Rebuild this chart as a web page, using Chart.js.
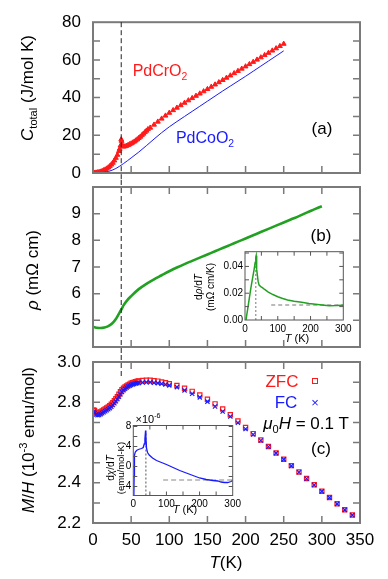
<!DOCTYPE html>
<html lang="en">
<head>
<meta charset="UTF-8">
<title>PdCrO2: heat capacity, resistivity and susceptibility</title>
<style>
  body { margin: 0; background: #fff; font-family: 'Liberation Sans', Arial, sans-serif; }
  #page { position: relative; width: 388px; height: 579px; overflow: hidden; }
  #page canvas { position: absolute; left: 0; top: 0; }
  .lbl { position: absolute; white-space: nowrap; transform: translate(-50%, -50%); font-size: 17px; line-height: 1; color: #000; }
  .rot { transform: translate(-50%, -50%) rotate(-90deg); }
  .sm { font-size: 10px; }
  sub, sup { font-size: 65%; line-height: 0; }
</style>
</head>
<body>
<div id="page">
  <canvas id="cA" width="388" height="579"></canvas>
  <canvas id="cB" width="388" height="579"></canvas>
  <canvas id="cC" width="388" height="579"></canvas>
  <canvas id="iB" width="388" height="579"></canvas>
  <canvas id="iC" width="388" height="579"></canvas>

  <div class="lbl rot" style="left:27px;top:88px"><i>C</i><sub>total</sub> (J/mol K)</div>
  <div class="lbl rot" style="left:32px;top:270px"><i>ρ</i> (mΩ cm)</div>
  <div class="lbl rot" style="left:28px;top:440px"><i>M</i>/<i>H</i> (10<sup>-3</sup> emu/mol)</div>
  <div class="lbl" style="left:226px;top:562px"><i>T</i>(K)</div>

  <div class="lbl" style="left:160px;top:71px;font-size:16px;color:#ff1a1a">PdCrO<sub>2</sub></div>
  <div class="lbl" style="left:205px;top:138px;font-size:16px;color:#1a1aff">PdCoO<sub>2</sub></div>
  <div class="lbl" style="left:322px;top:128px">(a)</div>
  <div class="lbl" style="left:321px;top:235px">(b)</div>
  <div class="lbl" style="left:321px;top:448px">(c)</div>

  <div class="lbl" style="left:282px;top:381px;color:#ff1a1a">ZFC</div>
  <div style="position:absolute;left:312px;top:378px;width:4px;height:4px;border:1px solid #ff1a1a"></div>
  <div class="lbl" style="left:286px;top:402px;color:#1a1aff">FC</div>
  <div class="lbl" style="left:315px;top:402px;font-size:13px;color:#1a1aff">×</div>
  <div class="lbl" style="left:306px;top:423px"><i>μ</i><sub>0</sub><i>H</i> = 0.1 T</div>

  <div class="lbl rot sm" style="left:199px;top:287px">d<i>ρ</i>/d<i>T</i></div>
  <div class="lbl rot sm" style="left:211px;top:287px">(mΩ cm/K)</div>
  <div class="lbl" style="left:297px;top:338px;font-size:11px"><i>T</i> (K)</div>

  <div class="lbl" style="left:148px;top:419px;font-size:11px">×10<sup>-6</sup></div>
  <div class="lbl rot sm" style="left:111px;top:468px">d<i>χ</i>/d<i>T</i></div>
  <div class="lbl rot sm" style="left:121px;top:468px;font-size:9.5px">(emu/mol-K)</div>
  <div class="lbl" style="left:185px;top:509px;font-size:11px"><i>T</i> (K)</div>
</div>

<script src="https://cdn.jsdelivr.net/npm/chart.js"></script>
<script>
// ---- data ----
// (a) heat capacity, J/mol K
const crT = [0, 2, 4, 6, 8, 10, 12, 14, 16, 18, 20, 22, 24, 26, 28, 30, 32, 34, 35, 36, 37, 37.5, 38, 39, 40,
  42, 44, 46, 48, 50, 52, 54, 56, 58, 60, 62, 64, 66, 68, 70, 72,
  75, 80, 85, 90, 95, 100, 105, 110, 115, 120, 125, 130, 135, 140, 145, 150, 155, 160, 165, 170,
  175, 180, 185, 190, 195, 200, 205, 210, 215, 220, 225, 230, 235, 240, 245, 250];
const crC = [0.1, 0.1, 0.2, 0.3, 0.5, 0.7, 1.0, 1.4, 1.8, 2.3, 2.9, 3.6, 4.4, 5.4, 6.6, 8.0, 9.6, 11.6, 12.8, 14.5, 17.8, 17.0, 15.0, 14.2, 14.0,
  14.1, 14.4, 14.8, 15.2, 15.6, 16.1, 16.6, 17.2, 17.8, 18.5, 19.2, 20.0, 20.8, 21.6, 22.4, 23.2,
  24.0, 25.6, 27.2, 28.8, 30.4, 31.9, 33.3, 34.6, 35.9, 37.2, 38.5, 39.7, 40.9, 42.1, 43.3, 44.5, 45.7, 46.9, 48.1, 49.3,
  50.5, 51.7, 52.9, 54.1, 55.3, 56.5, 57.7, 58.9, 60.1, 61.3, 62.5, 63.7, 64.9, 66.1, 67.3, 68.5];
const coT = [0, 10, 20, 30, 40, 50, 60, 70, 80, 90, 100, 110, 120, 130, 140, 150, 160, 170, 180, 190, 200, 210, 220, 230, 240, 250];
const coC = [0, 0.15, 0.8, 2.4, 5.0, 8.0, 11.1, 14.5, 18.0, 21.4, 24.5, 27.3, 30.0, 32.7, 35.4, 38.1, 40.8, 43.5, 46.1, 48.7, 51.3, 54.0, 56.7, 59.4, 62.1, 64.8];

// (b) resistivity, mOhm cm
const rhoT = [0, 2, 5, 10, 15, 20, 25, 30, 35, 38, 40, 45, 50, 60, 70, 80, 90, 100, 110, 120, 130, 140, 150,
  160, 170, 180, 190, 200, 210, 220, 230, 240, 250, 260, 270, 280, 290, 300];
const rhoV = [4.75, 4.74, 4.72, 4.71, 4.73, 4.78, 4.88, 5.05, 5.30, 5.45, 5.56, 5.76, 5.91, 6.17, 6.37, 6.54, 6.69, 6.84, 6.98, 7.11, 7.23, 7.35, 7.47,
  7.59, 7.71, 7.83, 7.95, 8.07, 8.19, 8.31, 8.43, 8.55, 8.67, 8.79, 8.91, 9.04, 9.16, 9.28];
// inset: d rho / dT
const drhoT = [3, 8, 13, 18, 23, 28, 31, 33, 34, 35, 36, 38, 40, 43, 48, 53, 60, 70, 85, 100, 115, 130, 150, 173, 195, 215, 235, 257, 280, 300];
const drhoV = [0, 0.008, 0.016, 0.024, 0.031, 0.038, 0.043, 0.047, 0.048, 0.045, 0.038, 0.033, 0.029, 0.026, 0.025, 0.0242,
  0.0228, 0.021, 0.019, 0.0174, 0.016, 0.0149, 0.014, 0.0132, 0.0123, 0.0117, 0.0112, 0.0107, 0.0108, 0.011];

// (c) M/H, 1e-3 emu/mol
const mT = [1, 2, 4, 6, 8, 10, 12, 14, 16, 18, 20, 22, 24, 26, 28, 30, 32, 34, 36, 38, 40, 42, 44, 46, 48, 50, 52, 54, 56, 58,
  60, 65, 70, 75, 80, 85, 90, 95, 100,
  110, 120, 130, 140, 150, 160, 170, 180, 190, 200, 210, 220, 230, 240, 250, 260, 270, 280, 290, 300, 310, 320, 330, 340];
const zfc = [2.762, 2.758, 2.750, 2.747, 2.748, 2.752, 2.757, 2.762, 2.767, 2.772, 2.777, 2.783, 2.790, 2.798, 2.807,
  2.817, 2.828, 2.840, 2.852, 2.862, 2.870, 2.876, 2.881, 2.886, 2.890, 2.894, 2.897, 2.900, 2.902, 2.904,
  2.906, 2.908, 2.909, 2.909, 2.907, 2.905, 2.901, 2.897, 2.892,
  2.883, 2.870, 2.854, 2.836, 2.815, 2.792, 2.766, 2.738, 2.707, 2.675, 2.644, 2.612, 2.580, 2.548, 2.517,
  2.485, 2.453, 2.421, 2.390, 2.358, 2.327, 2.296, 2.266, 2.240];
const fc = [2.752, 2.746, 2.739, 2.736, 2.737, 2.741, 2.745, 2.750, 2.755, 2.760, 2.765, 2.771, 2.778, 2.786, 2.795,
  2.805, 2.816, 2.828, 2.840, 2.851, 2.860, 2.867, 2.873, 2.878, 2.882, 2.886, 2.889, 2.891, 2.893, 2.895,
  2.896, 2.898, 2.899, 2.899, 2.897, 2.895, 2.892, 2.888, 2.884,
  2.875, 2.859, 2.842, 2.824, 2.803, 2.779, 2.754, 2.729, 2.698, 2.667, 2.640, 2.610, 2.579, 2.547, 2.516,
  2.484, 2.452, 2.420, 2.389, 2.357, 2.326, 2.295, 2.265, 2.239];
// inset: d chi / dT, 1e-6 emu/mol-K
const dchiT = [1.5, 2.5, 3, 4, 6, 10, 15, 20, 25, 30, 33, 35, 37, 38, 40, 43, 48, 58, 70, 85,
  100, 120, 140, 160, 180, 200, 220, 240, 255, 265, 275, 285, 295, 300];
const dchiV = [-7, -2, 1.0, 2.3, 2.9, 3.2, 3.4, 3.5, 3.6, 3.8, 4.5, 5.5, 7.2, 6.0, 3.6, 2.8, 2.3, 1.7, 1.2, 0.8,
  0.4, -0.2, -0.8, -1.3, -1.8, -2.3, -2.6, -2.8, -2.9, -3.1, -3.2, -3.2, -3.0, -2.8];

const tN = 37; // transition marked by the dashed line

// tick labels
const tTicks = [0, 50, 100, 150, 200, 250, 300, 350];
const cTicks = [0, 20, 40, 60, 80];
const rhoTicks = [5, 6, 7, 8, 9];
const mhTicks = [2.2, 2.4, 2.6, 2.8, 3.0];
const insetTTicks = [0, 100, 200, 300];
const drhoTicks = [0, 0.02, 0.04];
const dchiTicks = [-4, 0, 4, 8];
// tick marks (no labels)
const cMarks = [10, 20, 30, 40, 50, 60, 70];
const rhoMarks = [5, 6, 7, 8, 9];
const mhMarks = [2.3, 2.4, 2.5, 2.6, 2.7, 2.8, 2.9];
const insetTMarks = [50, 100, 150, 200, 250];
const drhoMarks = [0.01, 0.02, 0.03, 0.04, 0.05];
const dchiMarks = [-4, -2, 0, 2, 4, 6, 8];

const red = '#ff1a1a', blue = '#1a1aff', green = '#22a022';

Chart.defaults.font.family = "'Liberation Sans', Arial, sans-serif";
Chart.defaults.color = '#000';

function pts(xs, ys) { return xs.map((x, i) => ({ x: x, y: ys[i] })); }
function fixed(list) { return function (s) { s.ticks = list.map(v => ({ value: v })); }; }

// frame with inward ticks, optional white fill and the dashed T_N line
Chart.register({
  id: 'frame',
  beforeDraw(chart, args, o) {
    if (!o.fill) return;
    const a = chart.chartArea, ctx = chart.ctx;
    ctx.save();
    ctx.fillStyle = '#fff';
    ctx.fillRect(a.left, a.top, a.right - a.left, a.bottom - a.top);
    ctx.restore();
  },
  afterDraw(chart, args, o) {
    if (!o.color) return;
    const ctx = chart.ctx, a = chart.chartArea, x = chart.scales.x, y = chart.scales.y;
    ctx.save();
    ctx.strokeStyle = o.color;
    ctx.lineWidth = o.tickWidth;
    ctx.beginPath();
    o.xMarks.forEach(v => {
      const px = x.getPixelForValue(v);
      ctx.moveTo(px, a.bottom); ctx.lineTo(px, a.bottom - o.len);
      if (o.top) { ctx.moveTo(px, a.top); ctx.lineTo(px, a.top + o.len); }
    });
    o.yMarks.forEach(v => {
      const py = y.getPixelForValue(v);
      ctx.moveTo(a.left, py); ctx.lineTo(a.left + o.len, py);
      ctx.moveTo(a.right, py); ctx.lineTo(a.right - o.len, py);
    });
    ctx.stroke();
    ctx.lineWidth = o.width;
    ctx.strokeRect(a.left, a.top, a.right - a.left, a.bottom - a.top);
    if (o.mark) {
      const px = x.getPixelForValue(tN);
      const y1 = o.mark.toValue !== undefined ? y.getPixelForValue(o.mark.toValue) : a.bottom + o.mark.below;
      ctx.strokeStyle = '#222';
      ctx.lineWidth = 1;
      ctx.setLineDash([5, 3]);
      ctx.beginPath();
      ctx.moveTo(px, a.top - o.mark.above);
      ctx.lineTo(px, y1);
      ctx.stroke();
    }
    ctx.restore();
  }
});

function mainOpts(c) {
  return {
    responsive: false, animation: false, events: [],
    layout: { padding: { left: 0, right: 28, top: c.top, bottom: 0 } },
    plugins: {
      legend: { display: false }, tooltip: { enabled: false },
      frame: { color: '#7a7a7a', width: 2, tickWidth: 1.5, len: 7, top: c.topTicks,
        xMarks: tTicks, yMarks: c.yMarks, mark: c.mark }
    },
    scales: {
      x: {
        type: 'linear', min: 0, max: 350,
        grid: { display: false, drawTicks: false }, border: { display: false },
        ticks: { display: c.xLabels, font: { size: 17 }, padding: 7, maxRotation: 0, callback: v => String(v) },
        afterBuildTicks: fixed(tTicks),
        afterFit: s => { s.height = c.xH; }
      },
      y: {
        min: c.yMin, max: c.yMax,
        grid: { display: false, drawTicks: false }, border: { display: false },
        ticks: { font: { size: 17 }, padding: 12, callback: c.yFmt },
        afterBuildTicks: fixed(c.yLabels),
        afterFit: s => { s.width = 93; }
      }
    }
  };
}

function insetOpts(c) {
  return {
    responsive: false, animation: false, events: [],
    layout: { padding: { left: 0, right: c.right, top: c.top, bottom: 0 } },
    plugins: {
      legend: { display: false }, tooltip: { enabled: false },
      frame: { fill: true, color: '#555', width: 1, tickWidth: 1, len: 4, top: true,
        xMarks: insetTMarks, yMarks: c.yMarks }
    },
    scales: {
      x: {
        type: 'linear', min: 0, max: 300,
        grid: { display: false, drawTicks: false }, border: { display: false },
        ticks: { font: { size: 10 }, padding: 3, maxRotation: 0, callback: v => String(v) },
        afterBuildTicks: fixed(insetTTicks),
        afterFit: s => { s.height = c.xH; }
      },
      y: {
        min: c.yMin, max: c.yMax,
        grid: { display: false, drawTicks: false }, border: { display: false },
        ticks: { font: { size: 10 }, padding: 2, callback: c.yFmt },
        afterBuildTicks: fixed(c.yLabels),
        afterFit: s => { s.width = c.left; }
      }
    }
  };
}

// (a) heat capacity
new Chart(document.getElementById('cA'), {
  type: 'scatter',
  data: { datasets: [
    { data: pts(coT, coC), showLine: true, borderColor: blue, borderWidth: 1, pointRadius: 0, cubicInterpolationMode: 'monotone' },
    { data: pts(crT, crC), pointStyle: 'triangle', pointRadius: 2.8, backgroundColor: red, borderColor: red, borderWidth: 1 }
  ] },
  options: mainOpts({ top: 13, xH: 406, yMin: 0, yMax: 80, yLabels: cTicks, yMarks: cMarks, yFmt: v => String(v),
    topTicks: false, xLabels: false, mark: { above: 0, below: 7 } })
});

// (b) resistivity
new Chart(document.getElementById('cB'), {
  type: 'scatter',
  data: { datasets: [
    { data: pts(rhoT, rhoV), showLine: true, borderColor: green, borderWidth: 2.6, pointRadius: 0, cubicInterpolationMode: 'monotone' }
  ] },
  options: mainOpts({ top: 187, xH: 232, yMin: 4, yMax: 10, yLabels: rhoTicks, yMarks: rhoMarks, yFmt: v => String(v),
    topTicks: true, xLabels: false, mark: { above: 7, below: 8 } })
});

// (c) magnetic susceptibility
new Chart(document.getElementById('cC'), {
  type: 'scatter',
  data: { datasets: [
    { data: pts(mT, fc), pointStyle: 'crossRot', pointRadius: 3, borderColor: blue, borderWidth: 1.2 },
    { data: pts(mT, zfc), pointStyle: 'rect', pointRadius: 3, borderColor: red, backgroundColor: 'rgba(255,255,255,0)', borderWidth: 1.2 }
  ] },
  options: mainOpts({ top: 362, xH: 56, yMin: 2.2, yMax: 3.0, yLabels: mhTicks, yMarks: mhMarks, yFmt: v => v.toFixed(1),
    topTicks: true, xLabels: true, mark: { above: 7, toValue: 2.93 } })
});

// inset of (b)
new Chart(document.getElementById('iB'), {
  type: 'scatter',
  data: { datasets: [
    { data: pts(drhoT, drhoV), showLine: true, borderColor: green, borderWidth: 1.5, pointRadius: 0 },
    { data: [{ x: 80, y: 0.0112 }, { x: 300, y: 0.0112 }], showLine: true, borderColor: '#777', borderWidth: 1, borderDash: [4, 3], pointRadius: 0 },
    { data: [{ x: 33, y: 0 }, { x: 33, y: 0.047 }], showLine: true, borderColor: '#777', borderWidth: 1, borderDash: [2, 2], pointRadius: 0 }
  ] },
  options: insetOpts({ left: 245, right: 44.7, top: 251.7, xH: 259, yMin: 0, yMax: 0.051,
    yLabels: drhoTicks, yMarks: drhoMarks, yFmt: v => v.toFixed(2) })
});

// inset of (c)
new Chart(document.getElementById('iC'), {
  type: 'scatter',
  data: { datasets: [
    { data: pts(dchiT, dchiV), showLine: true, borderColor: blue, borderWidth: 1.3, pointRadius: 0 },
    { data: [{ x: 90, y: -2.7 }, { x: 300, y: -2.7 }], showLine: true, borderColor: '#888', borderWidth: 1.2, borderDash: [5, 3], pointRadius: 0 },
    { data: [{ x: 38, y: -5.8 }, { x: 38, y: 7.0 }], showLine: true, borderColor: '#555', borderWidth: 1, borderDash: [2, 2], pointRadius: 0 }
  ] },
  options: insetOpts({ left: 133.3, right: 155.3, top: 425.5, xH: 83.5, yMin: -5.8, yMax: 8.2,
    yLabels: dchiTicks, yMarks: dchiMarks, yFmt: v => String(v) })
});
</script>
</body>
</html>
